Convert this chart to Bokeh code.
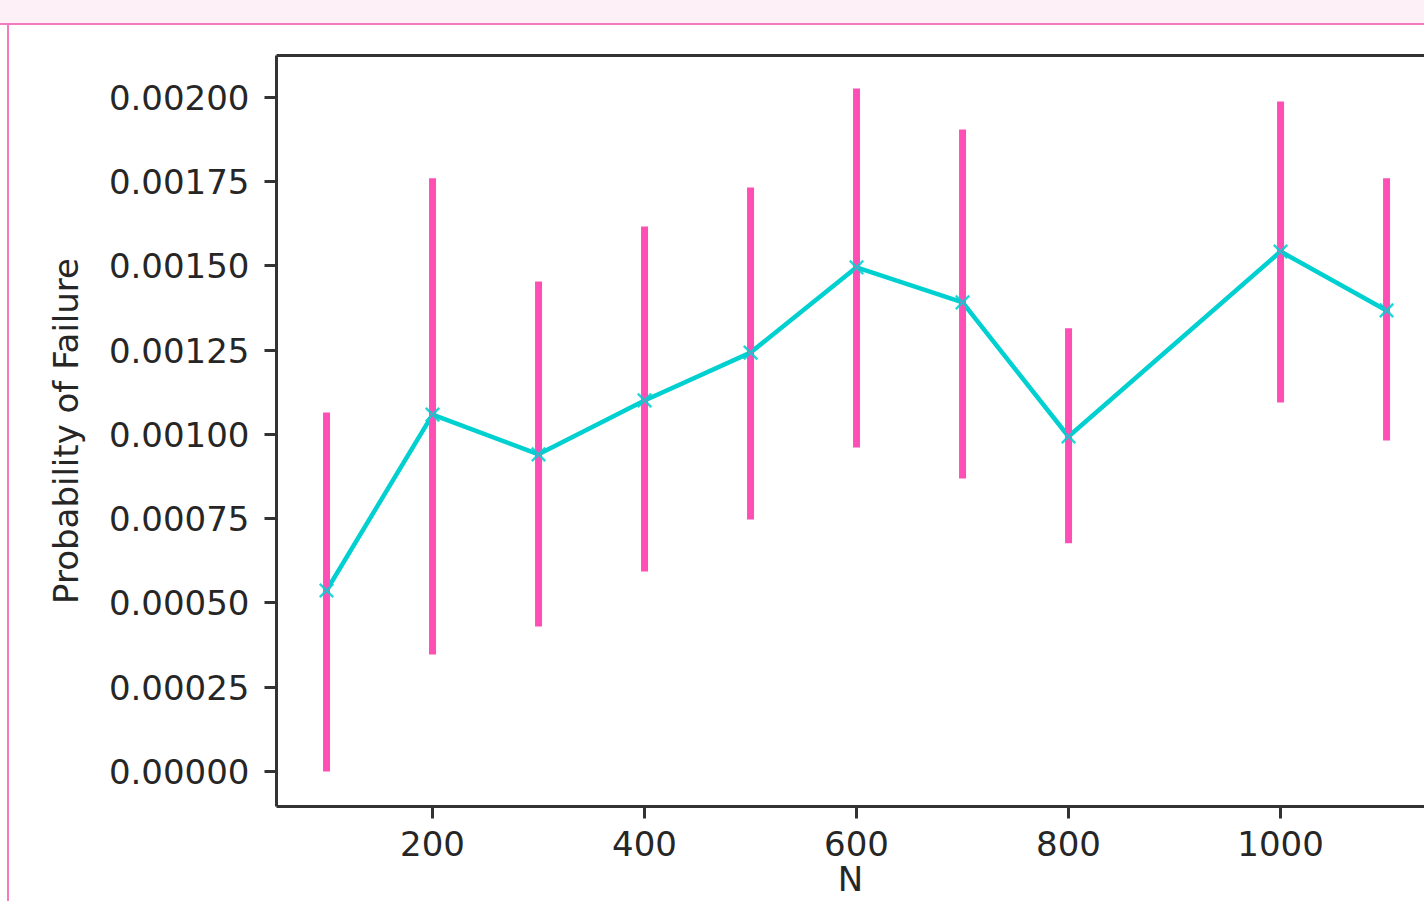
from bokeh.plotting import figure
from bokeh.models import Range1d, FixedTicker, PrintfTickFormatter, LinearAxis, Div
from bokeh.layouts import column, row
from bokeh.embed import file_html
from bokeh.resources import INLINE

# ---- data ----
N = [100, 200, 300, 400, 500, 600, 700, 800, 1000, 1100]
p_fail = [0.000537, 0.001059, 0.000941, 0.001101, 0.001243, 0.001496, 0.001392, 0.000994, 0.001543, 0.001368]
err_lower = [0.0, 0.000347, 0.000430, 0.000593, 0.000748, 0.000961, 0.000869, 0.000677, 0.001095, 0.000982]
err_upper = [0.001065, 0.001760, 0.001454, 0.001617, 0.001733, 0.002027, 0.001905, 0.001315, 0.001988, 0.001760]
y_ticks = [0.0, 0.00025, 0.0005, 0.00075, 0.001, 0.00125, 0.0015, 0.00175, 0.002]
x_ticks = [200, 400, 600, 800, 1000]
x_title = "N"
y_title = "Probability of Failure"

PINK_BG = "#fdf0f6"
PINK_BORDER = "#f27bbd"
BAR = "#ff4fb5"
LINE = "#00d0d0"
AX = "#333333"
TXT = "#262626"
FONT = "DejaVu Sans"

p = figure(width=1415, height=876, output_backend="svg", toolbar_location=None,
           x_range=Range1d(52.8, 1135.8), y_range=Range1d(-0.000104, 0.0021246),
           min_border_left=267, min_border_right=0, min_border_top=30, min_border_bottom=95,
           background_fill_color="white", border_fill_color="white", margin=0)
p.outline_line_color = None
p.xgrid.visible = False
p.ygrid.visible = False

p.line(N, p_fail, line_color=LINE, line_width=4.5)
p.segment(x0=N, y0=err_lower, x1=N, y1=err_upper, line_color=BAR, line_width=7)
p.scatter(N, p_fail, marker="x", size=19, line_color=LINE, line_width=2.5, line_alpha=0.85)

for ax in (p.xaxis[0], p.yaxis[0]):
    ax.axis_line_color = AX
    ax.axis_line_width = 3
    ax.major_tick_line_color = AX
    ax.major_tick_line_width = 3
    ax.major_tick_out = 12
    ax.major_tick_in = 0
    ax.minor_tick_line_color = None
    ax.major_label_text_font = FONT
    ax.major_label_text_font_size = "34px"
    ax.major_label_text_color = TXT
    ax.axis_label_text_font = FONT
    ax.axis_label_text_font_size = "34px"
    ax.axis_label_text_font_style = "normal"
    ax.axis_label_text_color = TXT

p.xaxis[0].ticker = FixedTicker(ticks=x_ticks)
p.yaxis[0].ticker = FixedTicker(ticks=y_ticks)
p.yaxis[0].formatter = PrintfTickFormatter(format="%.5f")
p.yaxis[0].axis_label = y_title
p.xaxis[0].axis_label = x_title
p.xaxis[0].major_label_standoff = 12
p.xaxis[0].axis_label_standoff = 0
p.yaxis[0].major_label_standoff = 15
p.yaxis[0].axis_label_standoff = 20

top = LinearAxis(ticker=FixedTicker(ticks=[]), axis_line_color=AX, axis_line_width=3,
                 major_tick_line_color=None, minor_tick_line_color=None,
                 major_label_text_font_size="0px", major_label_standoff=0)
p.add_layout(top, "above")

top_strip = Div(text="", width=1424, height=25, margin=0,
                styles={"background-color": PINK_BG, "border-bottom": "2px solid " + PINK_BORDER,
                        "box-sizing": "border-box"})
left_strip = Div(text="", width=2, height=876, margin=(0, 0, 0, 7),
                 styles={"background-color": PINK_BORDER})

layout = column(top_strip, row(left_strip, p, margin=0), margin=0)

open("out.html", "w").write(file_html(layout, INLINE))
